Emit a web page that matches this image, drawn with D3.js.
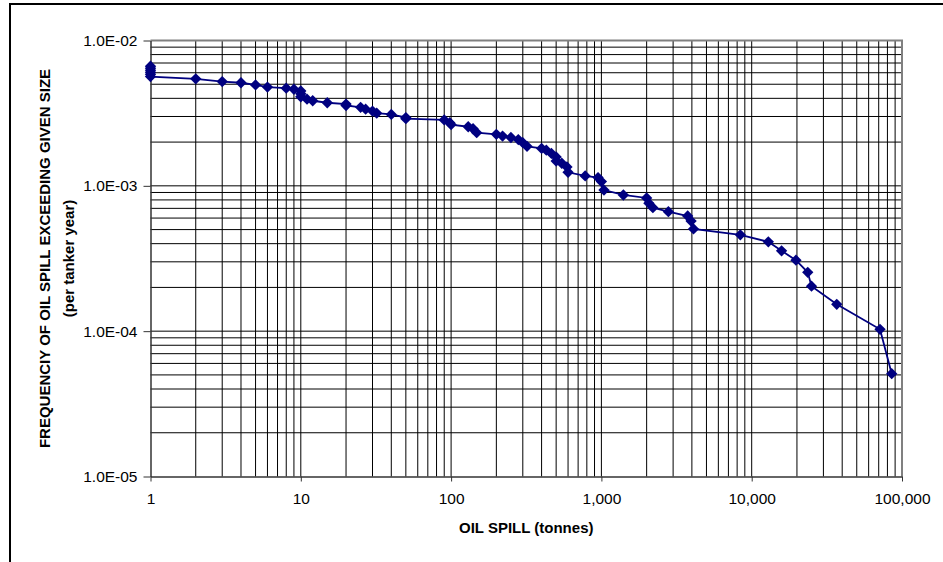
<!DOCTYPE html>
<html lang="en">
<head>
    <meta charset="UTF-8">
    <title>Oil spill frequency</title>
    <script src="https://d3js.org/d3.v7.min.js"></script>
    <style>
        body { margin: 0; background: #fff; font-family: Arial, "Liberation Sans", sans-serif; }
        .tick-label { font-size: 15.5px; fill: #000; }
        .axis-title { font-size: 15px; font-weight: bold; fill: #000; }
    </style>
</head>
<body>
    <svg width="943" height="562"></svg>
    <script>
        // oil spill size (tonnes) and cumulative frequency (per tanker year)
        const spillSize = [
            1, 1, 1, 1, 1, 1, 2, 3, 4, 5, 6, 8, 9, 10, 10, 10, 11, 12, 15, 20, 20,
            25, 27, 30, 32, 40, 50, 50, 90, 98, 100, 130, 140, 148, 200, 220, 250,
            280, 300, 320, 400, 430, 465, 500, 500, 545, 590, 600, 780, 950, 1000,
            1040, 1400, 2000, 2070, 2200, 2790, 3750, 3950, 4100, 8400, 12900,
            15800, 19700, 23600, 25000, 36800, 71400, 85400
        ];
        const frequency = [
            6.65e-3, 6.45e-3, 6.25e-3, 6.05e-3, 5.85e-3, 5.65e-3, 5.45e-3, 5.22e-3, 5.12e-3,
            4.95e-3, 4.78e-3, 4.7e-3, 4.62e-3, 4.5e-3, 4.3e-3, 4.1e-3, 3.95e-3, 3.85e-3,
            3.73e-3, 3.65e-3, 3.57e-3, 3.47e-3, 3.37e-3, 3.27e-3, 3.16e-3, 3.1e-3,
            2.95e-3, 2.9e-3, 2.84e-3, 2.72e-3, 2.64e-3, 2.55e-3, 2.47e-3, 2.32e-3,
            2.26e-3, 2.2e-3, 2.15e-3, 2.08e-3, 1.98e-3, 1.87e-3, 1.81e-3, 1.76e-3,
            1.67e-3, 1.58e-3, 1.48e-3, 1.43e-3, 1.35e-3, 1.24e-3, 1.17e-3, 1.14e-3,
            1.07e-3, 9.35e-4, 8.65e-4, 8.25e-4, 7.6e-4, 7.07e-4, 6.64e-4, 6.2e-4,
            5.72e-4, 5.05e-4, 4.6e-4, 4.12e-4, 3.57e-4, 3.08e-4, 2.54e-4, 2.04e-4,
            1.53e-4, 1.03e-4, 5.1e-5
        ];
        const xTickValues = [1, 10, 100, 1000, 10000, 100000];
        const xTickLabels = ["1", "10", "100", "1,000", "10,000", "100,000"];
        const yTickValues = [1e-5, 1e-4, 1e-3, 1e-2];
        const yTickLabels = ["1.0E-05", "1.0E-04", "1.0E-03", "1.0E-02"];

        const data = spillSize.map((s, i) => ({ size: s, freq: frequency[i] }));

        const margin = { top: 40.5, right: 41, bottom: 85.5, left: 150.5 };
        const width = 943 - margin.left - margin.right;
        const height = 562 - margin.top - margin.bottom;

        const root = d3.select("svg");

        // outer chart frame
        root.append("rect")
            .attr("x", 10).attr("y", 4)
            .attr("width", 1000).attr("height", 1000)
            .attr("fill", "none")
            .attr("stroke", "#000")
            .attr("stroke-width", 2);

        const svg = root.append("g")
            .attr("transform", `translate(${margin.left},${margin.top})`);

        const x = d3.scaleLog().domain([1, 100000]).range([0, width]);
        const y = d3.scaleLog().domain([1e-5, 1e-2]).range([height, 0]);

        // grid lines at every 1..9 step of each decade
        const xGrid = x.ticks().filter(v => v > 1 && v < 100000);
        const yGrid = y.ticks().filter(v => v > 1e-5 && v < 1e-2);

        svg.selectAll(".vgrid")
            .data(xGrid)
            .enter()
            .append("line")
            .attr("x1", d => x(d)).attr("x2", d => x(d))
            .attr("y1", 0).attr("y2", height)
            .attr("stroke", "#000")
            .attr("stroke-width", 1);

        svg.selectAll(".hgrid")
            .data(yGrid)
            .enter()
            .append("line")
            .attr("x1", 0).attr("x2", width)
            .attr("y1", d => y(d)).attr("y2", d => y(d))
            .attr("stroke", "#000")
            .attr("stroke-width", 1);

        // plot area border (top and right)
        svg.append("path")
            .attr("d", `M0,0H${width}V${height}`)
            .attr("fill", "none")
            .attr("stroke", "#808080")
            .attr("stroke-width", 2);

        // axes
        svg.append("g")
            .attr("transform", `translate(0,${height})`)
            .call(d3.axisBottom(x).tickValues(xTickValues).tickSize(5).tickSizeOuter(0)
                .tickFormat((d, i) => xTickLabels[i]))
            .call(g => g.select(".domain").attr("stroke", "#333").attr("stroke-width", 1.5))
            .call(g => g.selectAll(".tick line").attr("stroke", "#333"))
            .call(g => g.selectAll(".tick text").attr("class", "tick-label")
                .attr("font-family", null).attr("font-size", null).attr("y", 16));

        svg.append("g")
            .call(d3.axisLeft(y).tickValues(yTickValues).tickSize(7).tickSizeOuter(0)
                .tickFormat((d, i) => yTickLabels[i]))
            .call(g => g.select(".domain").attr("stroke", "#333").attr("stroke-width", 1.5))
            .call(g => g.selectAll(".tick line").attr("stroke", "#333"))
            .call(g => g.selectAll(".tick text").attr("class", "tick-label")
                .attr("font-family", null).attr("font-size", null).attr("x", -13));

        // series line and diamond markers
        svg.append("path")
            .datum(data)
            .attr("fill", "none")
            .attr("stroke", "#000080")
            .attr("stroke-width", 1.8)
            .attr("d", d3.line().x(d => x(d.size)).y(d => y(d.freq)));

        svg.selectAll(".marker")
            .data(data)
            .enter()
            .append("path")
            .attr("class", "marker")
            .attr("d", d3.symbol(d3.symbolSquare, 64)())
            .attr("transform", d => `translate(${x(d.size)},${y(d.freq)}) rotate(45)`)
            .attr("fill", "#000080");

        // axis titles
        svg.append("text")
            .attr("class", "axis-title")
            .attr("x", width / 2)
            .attr("y", height + 56)
            .attr("text-anchor", "middle")
            .text("OIL SPILL (tonnes)");

        svg.append("text")
            .attr("class", "axis-title")
            .attr("transform", `translate(${50 - margin.left},${height / 2}) rotate(-90)`)
            .attr("text-anchor", "middle")
            .text("FREQUENCIY OF OIL SPILL EXCEEDING GIVEN SIZE");

        svg.append("text")
            .attr("class", "axis-title")
            .attr("transform", `translate(${74 - margin.left},${height / 2}) rotate(-90)`)
            .attr("text-anchor", "middle")
            .text("(per tanker year)");
    </script>
</body>
</html>
